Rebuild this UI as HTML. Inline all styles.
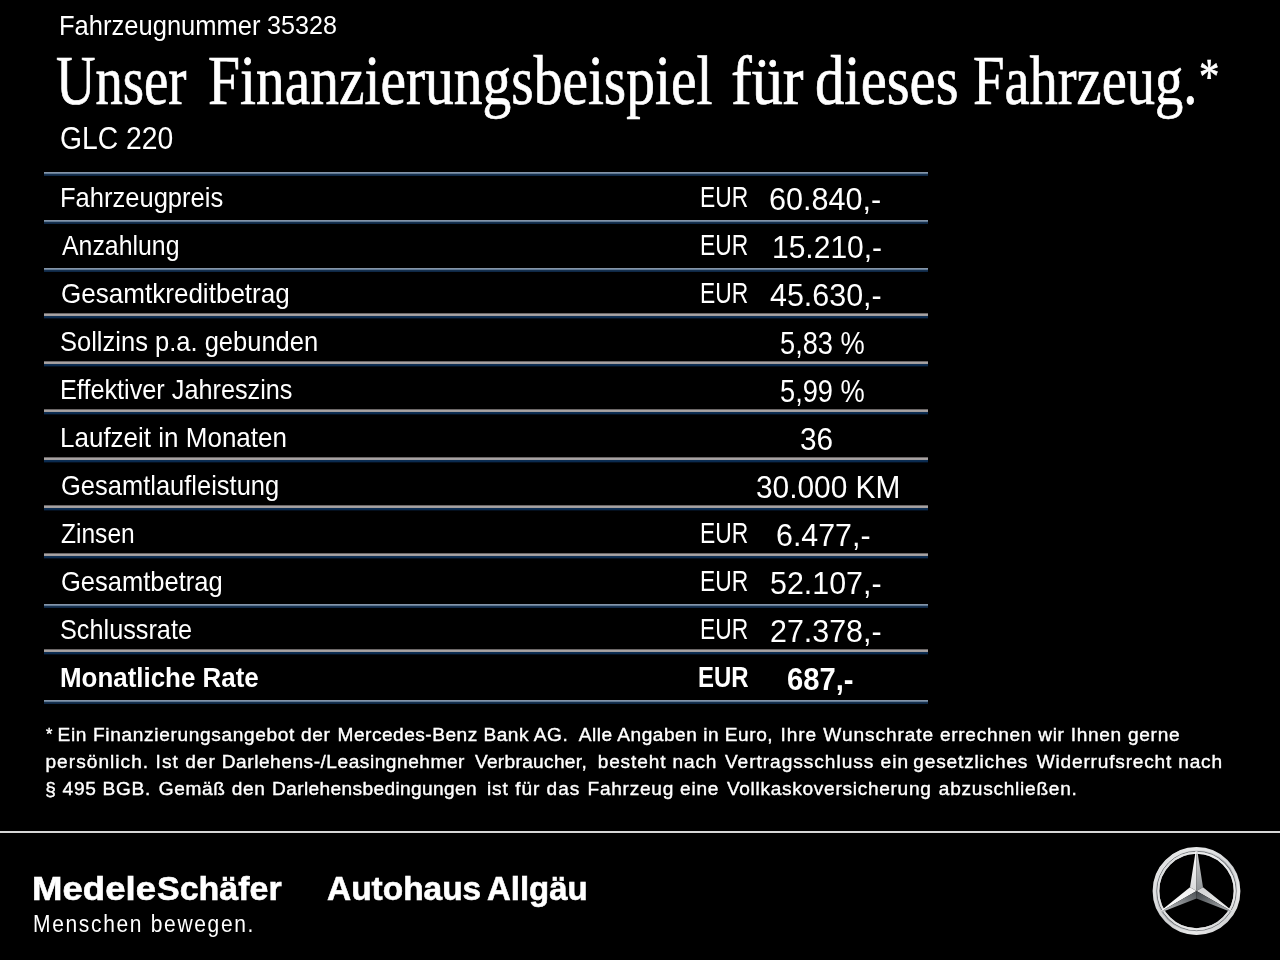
<!DOCTYPE html>
<html lang="de">
<head>
<meta charset="utf-8">
<title>Finanzierungsbeispiel</title>
<style>
html,body{margin:0;padding:0;background:#000;}
body{width:1280px;height:960px;position:relative;overflow:hidden;color:#fff;font-family:"Liberation Sans",sans-serif;}
.sa{font-family:"Liberation Sans",sans-serif;}
.se{font-family:"Liberation Serif",serif;}
.t{position:absolute;white-space:pre;line-height:1;transform-origin:0 0;color:#fff;}
#tx{position:absolute;left:0;top:0;width:1280px;height:960px;will-change:transform;filter:blur(0.4px);}
.ln{position:absolute;left:44px;width:884px;height:4px;}
.lb{background:linear-gradient(to bottom,#8595a8 0 1px,#607993 1px 2px,#17314f 2px 3px,#0e2846 3px 4px);}
.lg{height:6px;background:linear-gradient(to bottom,#6b6767 0 1px,#a8a3a3 1px 2px,#a19c9c 2px 3px,#0d2e53 3px 4px,#0a2a4e 4px 5px,#040f1d 5px 6px);}
.sep{position:absolute;left:0;top:831px;width:1280px;height:2px;background:#d6d6d6;}
.star{position:absolute;left:1146px;top:841px;width:100px;height:100px;}
</style>
</head>
<body>
<div class="ln lb" style="top:172px"></div>
<div class="ln lb" style="top:220px"></div>
<div class="ln lb" style="top:268px"></div>
<div class="ln lb" style="top:604px"></div>
<div class="ln lb" style="top:700px"></div>
<div class="ln lg" style="top:313px"></div>
<div class="ln lg" style="top:361px"></div>
<div class="ln lg" style="top:409px"></div>
<div class="ln lg" style="top:457px"></div>
<div class="ln lg" style="top:505px"></div>
<div class="ln lg" style="top:553px"></div>
<div class="ln lg" style="top:649px"></div>

<div id="tx">
<div class="t sa" style="left:58.54px;top:11.90px;font-weight:400;font-size:28.00px;transform:scaleX(0.9121);">Fahrzeugnummer</div>
<div class="t sa" style="left:266.50px;top:12.03px;font-weight:400;font-size:26.32px;transform:scaleX(0.9549);">35328</div>
<div class="t se" style="left:55.64px;top:46.69px;font-weight:400;font-size:69.00px;transform:scaleX(0.7919);-webkit-text-stroke:0.7px #fff;">Unser</div>
<div class="t se" style="left:207.70px;top:46.69px;font-weight:400;font-size:69.00px;transform:scaleX(0.8330);-webkit-text-stroke:0.7px #fff;">Finanzierungsbeispiel</div>
<div class="t se" style="left:730.65px;top:46.69px;font-weight:400;font-size:69.00px;transform:scaleX(0.9024);-webkit-text-stroke:0.7px #fff;">für</div>
<div class="t se" style="left:814.69px;top:46.69px;font-weight:400;font-size:69.00px;transform:scaleX(0.8509);-webkit-text-stroke:0.7px #fff;">dieses</div>
<div class="t se" style="left:973.32px;top:46.69px;font-weight:400;font-size:69.00px;transform:scaleX(0.8192);-webkit-text-stroke:0.7px #fff;">Fahrzeug.</div>
<div class="t se" style="left:1198.88px;top:52.04px;font-weight:400;font-size:49.96px;transform:scaleX(0.8148);-webkit-text-stroke:0.7px #fff;">*</div>
<div class="t sa" style="left:59.70px;top:124.40px;font-weight:400;font-size:30.95px;transform:scaleX(0.9143);">GLC 220</div>
<div class="t sa" style="left:59.74px;top:184.10px;font-weight:400;font-size:28.00px;transform:scaleX(0.9118);">Fahrzeugpreis</div>
<div class="t sa" style="left:61.59px;top:232.10px;font-weight:400;font-size:28.00px;transform:scaleX(0.8879);">Anzahlung</div>
<div class="t sa" style="left:60.51px;top:280.10px;font-weight:400;font-size:28.00px;transform:scaleX(0.9303);">Gesamtkreditbetrag</div>
<div class="t sa" style="left:60.46px;top:328.10px;font-weight:400;font-size:28.00px;transform:scaleX(0.9111);">Sollzins p.a. gebunden</div>
<div class="t sa" style="left:59.77px;top:376.10px;font-weight:400;font-size:28.00px;transform:scaleX(0.9016);">Effektiver Jahreszins</div>
<div class="t sa" style="left:59.71px;top:424.10px;font-weight:400;font-size:28.00px;transform:scaleX(0.9288);">Laufzeit in Monaten</div>
<div class="t sa" style="left:60.54px;top:472.10px;font-weight:400;font-size:28.00px;transform:scaleX(0.9104);">Gesamtlaufleistung</div>
<div class="t sa" style="left:61.06px;top:520.10px;font-weight:400;font-size:28.00px;transform:scaleX(0.8770);">Zinsen</div>
<div class="t sa" style="left:60.54px;top:568.10px;font-weight:400;font-size:28.00px;transform:scaleX(0.9112);">Gesamtbetrag</div>
<div class="t sa" style="left:60.47px;top:616.10px;font-weight:400;font-size:28.00px;transform:scaleX(0.9019);">Schlussrate</div>
<div class="t sa" style="left:60.11px;top:663.80px;font-weight:700;font-size:28.00px;transform:scaleX(0.9254);">Monatliche Rate</div>
<div class="t sa" style="left:700.07px;top:183.10px;font-weight:400;font-size:28.60px;transform:scaleX(0.7981);">EUR</div>
<div class="t sa" style="left:700.07px;top:231.10px;font-weight:400;font-size:28.60px;transform:scaleX(0.7981);">EUR</div>
<div class="t sa" style="left:700.07px;top:279.10px;font-weight:400;font-size:28.60px;transform:scaleX(0.7981);">EUR</div>
<div class="t sa" style="left:700.07px;top:519.10px;font-weight:400;font-size:28.60px;transform:scaleX(0.7981);">EUR</div>
<div class="t sa" style="left:700.07px;top:567.10px;font-weight:400;font-size:28.60px;transform:scaleX(0.7981);">EUR</div>
<div class="t sa" style="left:700.07px;top:615.10px;font-weight:400;font-size:28.60px;transform:scaleX(0.7981);">EUR</div>
<div class="t sa" style="left:698.19px;top:662.80px;font-weight:700;font-size:28.60px;transform:scaleX(0.8380);">EUR</div>
<div class="t sa" style="left:769.49px;top:184.06px;font-weight:400;font-size:31.49px;transform:scaleX(0.9711);">60.840,-</div>
<div class="t sa" style="left:772.17px;top:232.06px;font-weight:400;font-size:31.49px;transform:scaleX(0.9528);">15.210,-</div>
<div class="t sa" style="left:769.97px;top:280.06px;font-weight:400;font-size:31.49px;transform:scaleX(0.9669);">45.630,-</div>
<div class="t sa" style="left:779.61px;top:328.06px;font-weight:400;font-size:31.49px;transform:scaleX(0.8650);">5,83 %</div>
<div class="t sa" style="left:779.61px;top:376.06px;font-weight:400;font-size:31.49px;transform:scaleX(0.8650);">5,99 %</div>
<div class="t sa" style="left:800.26px;top:424.06px;font-weight:400;font-size:31.49px;transform:scaleX(0.9440);">36</div>
<div class="t sa" style="left:756.15px;top:472.06px;font-weight:400;font-size:31.49px;transform:scaleX(0.9483);">30.000 KM</div>
<div class="t sa" style="left:776.25px;top:520.06px;font-weight:400;font-size:31.49px;transform:scaleX(0.9640);">6.477,-</div>
<div class="t sa" style="left:770.17px;top:568.06px;font-weight:400;font-size:31.49px;transform:scaleX(0.9651);">52.107,-</div>
<div class="t sa" style="left:770.14px;top:616.06px;font-weight:400;font-size:31.49px;transform:scaleX(0.9654);">27.378,-</div>
<div class="t sa" style="left:787.04px;top:665.05px;font-weight:700;font-size:30.93px;transform:scaleX(0.9436);">687,-</div>
<div class="t sa" style="left:57.51px;top:725.19px;font-weight:400;font-size:19.10px;letter-spacing:0.653px;-webkit-text-stroke:0.4px #fff;">Ein Finanzierungsangebot der</div>
<div class="t sa" style="left:337.51px;top:725.19px;font-weight:400;font-size:19.10px;letter-spacing:0.500px;-webkit-text-stroke:0.4px #fff;">Mercedes-Benz Bank AG.</div>
<div class="t sa" style="left:578.67px;top:725.19px;font-weight:400;font-size:19.10px;letter-spacing:0.513px;-webkit-text-stroke:0.4px #fff;">Alle Angaben in Euro,</div>
<div class="t sa" style="left:780.62px;top:725.19px;font-weight:400;font-size:19.10px;letter-spacing:0.911px;-webkit-text-stroke:0.4px #fff;">Ihre Wunschrate</div>
<div class="t sa" style="left:939.89px;top:725.19px;font-weight:400;font-size:19.10px;letter-spacing:0.700px;-webkit-text-stroke:0.4px #fff;">errechnen wir Ihnen gerne</div>
<div class="t sa" style="left:45.41px;top:752.19px;font-weight:400;font-size:19.10px;letter-spacing:1.043px;-webkit-text-stroke:0.4px #fff;">persönlich. Ist der</div>
<div class="t sa" style="left:221.76px;top:752.19px;font-weight:400;font-size:19.10px;letter-spacing:0.539px;-webkit-text-stroke:0.4px #fff;">Darlehens-/Leasingnehmer</div>
<div class="t sa" style="left:474.90px;top:752.19px;font-weight:400;font-size:19.10px;letter-spacing:0.324px;-webkit-text-stroke:0.4px #fff;">Verbraucher,</div>
<div class="t sa" style="left:597.66px;top:752.19px;font-weight:400;font-size:19.10px;letter-spacing:0.861px;-webkit-text-stroke:0.4px #fff;">besteht nach</div>
<div class="t sa" style="left:724.90px;top:752.19px;font-weight:400;font-size:19.10px;letter-spacing:0.978px;-webkit-text-stroke:0.4px #fff;">Vertragsschluss ein</div>
<div class="t sa" style="left:913.34px;top:752.19px;font-weight:400;font-size:19.10px;letter-spacing:0.819px;-webkit-text-stroke:0.4px #fff;">gesetzliches</div>
<div class="t sa" style="left:1036.72px;top:752.19px;font-weight:400;font-size:19.10px;letter-spacing:0.803px;-webkit-text-stroke:0.4px #fff;">Widerrufsrecht nach</div>
<div class="t sa" style="left:45.30px;top:779.09px;font-weight:400;font-size:19.10px;letter-spacing:0.692px;-webkit-text-stroke:0.4px #fff;">§ 495 BGB.</div>
<div class="t sa" style="left:158.71px;top:779.09px;font-weight:400;font-size:19.10px;letter-spacing:0.661px;-webkit-text-stroke:0.4px #fff;">Gemäß den</div>
<div class="t sa" style="left:272.01px;top:779.09px;font-weight:400;font-size:19.10px;letter-spacing:0.383px;-webkit-text-stroke:0.4px #fff;">Darlehensbedingungen</div>
<div class="t sa" style="left:486.90px;top:779.09px;font-weight:400;font-size:19.10px;letter-spacing:0.964px;-webkit-text-stroke:0.4px #fff;">ist für das</div>
<div class="t sa" style="left:587.51px;top:779.09px;font-weight:400;font-size:19.10px;letter-spacing:0.733px;-webkit-text-stroke:0.4px #fff;">Fahrzeug eine</div>
<div class="t sa" style="left:726.90px;top:779.09px;font-weight:400;font-size:19.10px;letter-spacing:0.700px;-webkit-text-stroke:0.4px #fff;">Vollkaskoversicherung</div>
<div class="t sa" style="left:938.81px;top:779.09px;font-weight:400;font-size:19.10px;letter-spacing:0.739px;-webkit-text-stroke:0.4px #fff;">abzuschließen.</div>
<div class="t sa" style="left:46.30px;top:725.63px;font-weight:400;font-size:16.42px;transform:scaleX(1.0029);-webkit-text-stroke:0.4px #fff;">*</div>
<div class="t sa" style="left:31.98px;top:872.29px;font-weight:700;font-size:33.94px;transform:scaleX(1.0785);-webkit-text-stroke:0.6px #fff;">Medele</div>
<div class="t sa" style="left:156.51px;top:872.29px;font-weight:700;font-size:33.94px;transform:scaleX(1.0016);-webkit-text-stroke:0.6px #fff;">Schäfer</div>
<div class="t sa" style="left:32.68px;top:911.50px;font-weight:400;font-size:24.41px;letter-spacing:1.944px;transform:scaleX(0.8600);">Menschen bewegen.</div>
<div class="t sa" style="left:326.91px;top:872.29px;font-weight:700;font-size:33.94px;transform:scaleX(0.9859);-webkit-text-stroke:0.6px #fff;">Autohaus</div>
<div class="t sa" style="left:487.42px;top:872.29px;font-weight:700;font-size:33.94px;transform:scaleX(0.9704);-webkit-text-stroke:0.6px #fff;">Allgäu</div>
</div>
<div class="sep"></div>
<svg class="star" viewBox="0 0 100 100">
<defs>
<linearGradient id="ro" x1="0.1" y1="0.05" x2="0.9" y2="0.95">
<stop offset="0" stop-color="#f4f4f4"/><stop offset="0.3" stop-color="#c9cbcd"/><stop offset="0.55" stop-color="#a9acaf"/><stop offset="0.8" stop-color="#e9e9e9"/><stop offset="1" stop-color="#c4c6c8"/>
</linearGradient>
<linearGradient id="ri" x1="0.9" y1="0.1" x2="0.1" y2="0.9">
<stop offset="0" stop-color="#ffffff"/><stop offset="0.5" stop-color="#d6d7d8"/><stop offset="1" stop-color="#f2f2f2"/>
</linearGradient>
<linearGradient id="f1" x1="0" y1="0" x2="0" y2="1"><stop offset="0" stop-color="#ffffff"/><stop offset="1" stop-color="#d9dadb"/></linearGradient>
<linearGradient id="f2" x1="0" y1="0" x2="0" y2="1"><stop offset="0" stop-color="#d5d6d7"/><stop offset="1" stop-color="#909497"/></linearGradient>
<linearGradient id="f3" x1="1" y1="1" x2="0" y2="0"><stop offset="0" stop-color="#f4f4f4"/><stop offset="1" stop-color="#cfd0d1"/></linearGradient>
<linearGradient id="f4" x1="1" y1="1" x2="0" y2="0"><stop offset="0" stop-color="#b4b7b9"/><stop offset="1" stop-color="#3e4347"/></linearGradient>
<linearGradient id="f5" x1="0" y1="1" x2="1" y2="0"><stop offset="0" stop-color="#ffffff"/><stop offset="1" stop-color="#f0f0f0"/></linearGradient>
<linearGradient id="f6" x1="0" y1="1" x2="1" y2="0"><stop offset="0" stop-color="#c2c4c6"/><stop offset="1" stop-color="#4d5256"/></linearGradient>
</defs>
<g transform="translate(50.5,50)">
<circle r="40.55" fill="none" stroke="url(#ro)" stroke-width="6.7"/>
<circle r="42.2" fill="none" stroke="url(#ri)" stroke-width="2.4" opacity="0.55"/>
<circle r="39.7" fill="none" stroke="#5c6065" stroke-width="1.0" opacity="0.8"/>
<circle r="38.2" fill="none" stroke="url(#ri)" stroke-width="1.9" opacity="0.8"/>
<polygon points="0,-40.6 -0.8,-40.3 -6.5,-3.75 0,0" fill="url(#f1)"/>
<polygon points="0,-40.6 0.8,-40.3 6.5,-3.75 0,0" fill="url(#f2)"/>
<polygon points="35.2,20.3 35.3,19.5 6.5,-3.75 0,0" fill="url(#f3)"/>
<polygon points="35.2,20.3 34.5,20.9 0,7.5 0,0" fill="url(#f4)"/>
<polygon points="-35.2,20.3 -35.3,19.5 -6.5,-3.75 0,0" fill="url(#f5)"/>
<polygon points="-35.2,20.3 -34.5,20.9 0,7.5 0,0" fill="url(#f6)"/>
</g>
</svg>

</body>
</html>
